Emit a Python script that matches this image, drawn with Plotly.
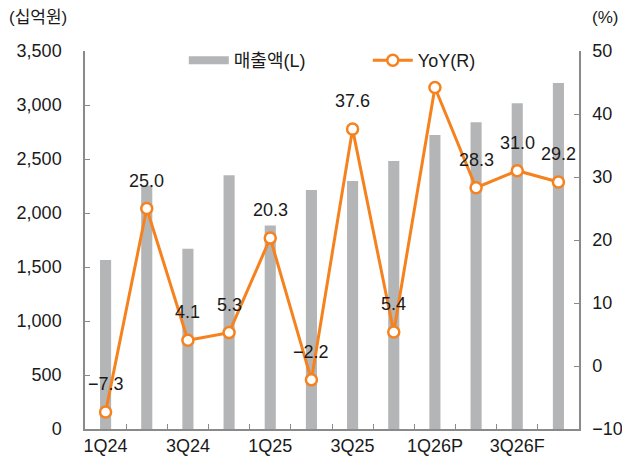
import plotly.graph_objects as go

# ---------------------------------------------------------------------------
# Data
# ---------------------------------------------------------------------------
quarters = ["1Q24", "2Q24", "3Q24", "4Q24", "1Q25", "2Q25",
            "3Q25", "4Q25", "1Q26P", "2Q26F", "3Q26F", "4Q26F"]
tick_text = ["1Q24", "", "3Q24", "", "1Q25", "",
             "3Q25", "", "1Q26P", "", "3Q26F", ""]
sales = [1565, 2255, 1668, 2350, 1884, 2213, 2297, 2481, 2723, 2841, 3017, 3204]
yoy = [-7.3, 25.0, 4.1, 5.3, 20.3, -2.2, 37.6, 5.4, 44.2, 28.3, 31.0, 29.2]
yoy_labels = ["−7.3", "25.0", "4.1", "5.3", "20.3", "−2.2",
              "37.6", "5.4", "", "28.3", "31.0", "29.2"]

# ---------------------------------------------------------------------------
# Style
# ---------------------------------------------------------------------------
BAR_COLOR = "#b4b5b7"
LINE_COLOR = "#f5821f"
AXIS_COLOR = "#8a8a8a"
FONT = "Liberation Sans, Noto Sans CJK KR, sans-serif"
FONT_SIZE = 18

# page body has an 8px default margin, so the figure is drawn 8px smaller
fig = go.Figure()

fig.add_trace(go.Bar(
    x=quarters,
    y=sales,
    name="매출액(L)",
    marker=dict(color=BAR_COLOR, line=dict(width=0)),
    width=0.27,
    showlegend=False,
))

# legend proxy: wide grey swatch like the original
fig.add_trace(go.Scatter(
    x=[None], y=[None],
    name="매출액(L)",
    mode="lines",
    line=dict(color=BAR_COLOR, width=8),
))

fig.add_trace(go.Scatter(
    x=quarters,
    y=yoy,
    name="YoY(R)",
    yaxis="y2",
    mode="lines+markers",
    line=dict(color=LINE_COLOR, width=3),
    marker=dict(symbol="circle", size=11, color="white",
                line=dict(color=LINE_COLOR, width=2.5)),
))

# data labels
for q, v, t in zip(quarters, yoy, yoy_labels):
    if not t:
        continue
    fig.add_annotation(
        x=q, y=v, xref="x", yref="y2",
        text=t, showarrow=False, yshift=28,
        font=dict(size=FONT_SIZE, color="#1a1a1a", family=FONT),
    )

# axis unit labels
fig.add_annotation(text="(십억원)", x=-0.158, y=1.088, xref="paper", yref="paper",
                   xanchor="left", yanchor="middle", showarrow=False,
                   font=dict(size=17, color="#1a1a1a", family=FONT))
fig.add_annotation(text="(%)", x=1.022, y=1.088, xref="paper", yref="paper",
                   xanchor="left", yanchor="middle", showarrow=False,
                   font=dict(size=17, color="#1a1a1a", family=FONT))

fig.update_layout(
    width=622,
    height=451,
    margin=dict(l=77, r=51, t=43, b=30),
    paper_bgcolor="white",
    plot_bgcolor="white",
    font=dict(family=FONT, size=FONT_SIZE, color="#1a1a1a"),
    showlegend=True,
    legend=dict(
        orientation="h",
        x=0.2, y=0.975, xanchor="left", yanchor="middle",
        bgcolor="rgba(0,0,0,0)",
        font=dict(size=FONT_SIZE),
        itemwidth=40,
        entrywidth=129,
        entrywidthmode="pixels",
        traceorder="normal",
    ),
    bargap=0.5,
    xaxis=dict(
        type="category",
        range=[-0.5, len(quarters) - 0.5],
        tickmode="array",
        tickvals=quarters,
        ticktext=tick_text,
        tickson="boundaries",
        tickangle=0,
        automargin=False,
        ticks="inside",
        ticklen=5,
        tickcolor=AXIS_COLOR,
        showline=True,
        linecolor=AXIS_COLOR,
        linewidth=1.5,
        showgrid=False,
        tickfont=dict(size=FONT_SIZE),
    ),
    yaxis=dict(
        range=[0, 3500],
        dtick=500,
        tickformat=",",
        automargin=False,
        ticks="inside",
        ticklen=5,
        tickcolor=AXIS_COLOR,
        showline=True,
        linecolor=AXIS_COLOR,
        linewidth=1.5,
        showgrid=False,
        zeroline=False,
        ticklabelstandoff=18,
    ),
    yaxis2=dict(
        range=[-10, 50],
        dtick=10,
        overlaying="y",
        side="right",
        automargin=False,
        ticks="inside",
        ticklen=5,
        tickcolor=AXIS_COLOR,
        showline=True,
        linecolor=AXIS_COLOR,
        linewidth=1.5,
        showgrid=False,
        zeroline=False,
        ticklabelstandoff=8,
    ),
)

fig.write_html("out.html")
